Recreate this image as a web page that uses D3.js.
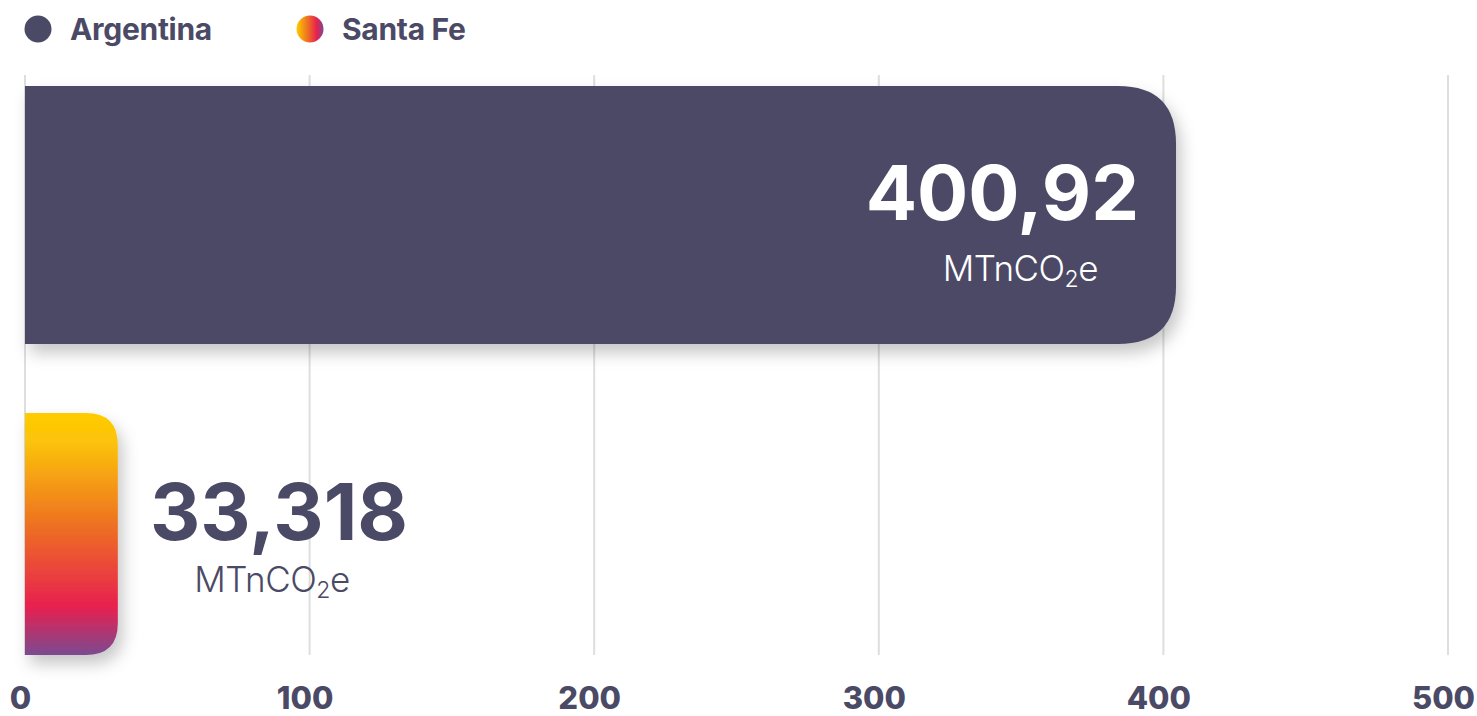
<!DOCTYPE html>
<html>
<head>
<meta charset="utf-8">
<script src="https://cdn.jsdelivr.net/npm/d3@7"></script>
<style>
  body { margin: 0; background: #fff; }
  svg { display: block; font-family: Inter, "Noto Sans", sans-serif; }
</style>
</head>
<body>
<div id="chart"></div>
<script>
// data
const regions = ["Argentina", "Santa Fe"];
const emissions = [400.92, 33.318];
const valueLabels = ["400,92", "33,318"];
const unitLabel = "MTnCO";
const xTicks = [0, 100, 200, 300, 400, 500];

const svgWidth = 1477;
const svgHeight = 716;
const ink = "#4b4a66";

const svg = d3.select("#chart")
  .append("svg")
  .attr("width", svgWidth)
  .attr("height", svgHeight);

const defs = svg.append("defs");

// vertical gradient for the santa fe bar
const vGrad = defs.append("linearGradient")
  .attr("id", "sfGrad")
  .attr("x1", 0).attr("y1", 0).attr("x2", 0).attr("y2", 1);
[["0%", "#ffcc00"], ["12%", "#fcc30a"], ["45%", "#ee7420"], ["80%", "#e8204f"], ["100%", "#7b4a90"]]
  .forEach(s => vGrad.append("stop").attr("offset", s[0]).attr("stop-color", s[1]));

// horizontal gradient for legend dot
const hGrad = defs.append("linearGradient")
  .attr("id", "sfGradH")
  .attr("x1", 0).attr("y1", 0).attr("x2", 1).attr("y2", 0);
[["0%", "#ffcc00"], ["40%", "#ee7420"], ["75%", "#e8204f"], ["100%", "#7b4a90"]]
  .forEach(s => hGrad.append("stop").attr("offset", s[0]).attr("stop-color", s[1]));

const shadow = defs.append("filter")
  .attr("id", "shadow")
  .attr("x", "-20%").attr("y", "-20%").attr("width", "150%").attr("height", "150%");
shadow.append("feDropShadow")
  .attr("dx", 5).attr("dy", 9)
  .attr("stdDeviation", 8)
  .attr("flood-color", "#000")
  .attr("flood-opacity", 0.22);

const fills = [ink, "url(#sfGrad)"];
const legendFills = [ink, "url(#sfGradH)"];

// scales
const x = d3.scaleLinear().domain([0, 500]).range([25, 1448]);
const y = d3.scaleBand().domain(regions).range([86, 655]).paddingInner(0.216);
// argentina bar reaches a bit lower, santa fe starts a bit lower
const yShift = [[0, 8], [8, 0]];

// grid
svg.append("g")
  .selectAll("line")
  .data(xTicks)
  .enter()
  .append("line")
  .attr("x1", d => x(d)).attr("x2", d => x(d))
  .attr("y1", 75).attr("y2", 655)
  .attr("stroke", "#dedede")
  .attr("stroke-width", 2);

// axis labels
const axis = svg.append("g")
  .attr("transform", "translate(0,655)")
  .call(d3.axisBottom(x).tickValues(xTicks).tickSize(0));
axis.select(".domain").remove();
axis.selectAll("text")
  .attr("y", 54).attr("dy", 0)
  .attr("dx", -5)
  .style("font-family", "Inter, sans-serif")
  .style("font-size", "31px")
  .style("font-weight", 800)
  .attr("fill", ink);

// bar path with rounded right end
function barPath (x0, y0, w, h, r) {
  r = Math.min(r, w, h / 2);
  return `M${x0},${y0} H${x0 + w - r} Q${x0 + w},${y0} ${x0 + w},${y0 + r}` +
    ` V${y0 + h - r} Q${x0 + w},${y0 + h} ${x0 + w - r},${y0 + h} H${x0} Z`;
}

const radii = [58, 32];
svg.append("g")
  .selectAll("path")
  .data(regions)
  .enter()
  .append("path")
  .attr("d", (d, i) => barPath(
    x(0),
    y(d) + yShift[i][0],
    x(emissions[i]) - x(0) + (i === 0 ? 10 : -2),
    y.bandwidth() - yShift[i][0] + yShift[i][1],
    radii[i]))
  .attr("fill", (d, i) => fills[i])
  .attr("filter", "url(#shadow)");

function unitText (sel) {
  sel.append("tspan").text(unitLabel);
  sel.append("tspan").attr("font-size", "23px").attr("dy", 6).text("2");
  sel.append("tspan").attr("dy", -6).text("e");
}

// value labels - argentina inside bar
const argY = y(regions[0]);
svg.append("text")
  .attr("x", 1139).attr("y", argY + 134)
  .attr("text-anchor", "end")
  .style("font-size", "76px").style("font-weight", 700)
  .attr("fill", "#fff")
  .text(valueLabels[0]);
svg.append("text")
  .attr("x", 1098).attr("y", argY + 195)
  .attr("text-anchor", "end")
  .style("font-size", "35px").style("font-weight", 300)
  .style("letter-spacing", "-0.5px")
  .attr("fill", "#fff")
  .call(unitText);

// santa fe label beside bar
const sfY = y(regions[1]) + yShift[1][0];
svg.append("text")
  .attr("x", 279).attr("y", sfY + 127)
  .attr("text-anchor", "middle")
  .style("font-size", "78px").style("font-weight", 700)
  .attr("fill", ink)
  .text(valueLabels[1]);
svg.append("text")
  .attr("x", 272).attr("y", sfY + 179)
  .attr("text-anchor", "middle")
  .style("font-size", "35px").style("font-weight", 300)
  .style("letter-spacing", "-0.5px")
  .attr("fill", ink)
  .call(unitText);

// legend
const legendX = [38, 310];
const legend = svg.append("g")
  .selectAll("g")
  .data(regions)
  .enter()
  .append("g")
  .attr("transform", (d, i) => `translate(${legendX[i]}, 29)`);
legend.append("circle")
  .attr("r", 13.5)
  .attr("fill", (d, i) => legendFills[i]);
legend.append("text")
  .attr("x", 32).attr("y", 11)
  .style("font-size", "30px").style("font-weight", 700)
  .style("letter-spacing", "-0.3px")
  .attr("fill", ink)
  .text(d => d);
</script>
</body>
</html>
